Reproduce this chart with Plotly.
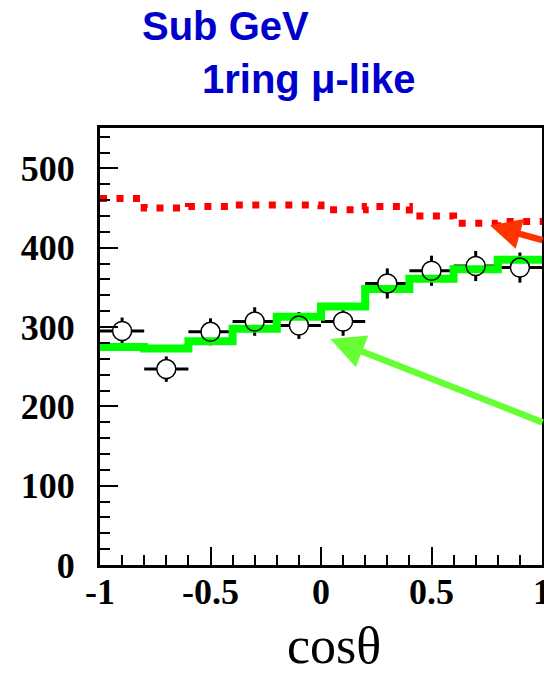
import plotly.graph_objects as go

# ---------------- data ----------------
bin_edges = [-1.0, -0.8, -0.6, -0.4, -0.2, 0.0, 0.2, 0.4, 0.6, 0.8, 1.0]
bin_centers = [-0.9, -0.7, -0.5, -0.3, -0.1, 0.1, 0.3, 0.5, 0.7, 0.9]
data_counts = [295, 247, 294, 307, 302, 307, 355, 371, 377, 375]
data_errors = [17, 16, 17, 18, 17, 18, 19, 19, 19, 19]
mc_oscillated = [275, 273, 282, 298, 313, 326, 348, 361, 373, 385]
mc_no_oscillation = [462, 450, 452, 454, 454, 448, 452, 440, 431, 433]

x_tick_vals = [-1, -0.5, 0, 0.5, 1]
x_tick_text = ["-1", "-0.5", "0", "0.5", "1"]
y_tick_vals = [0, 100, 200, 300, 400, 500]
y_tick_text = ["0", "100", "200", "300", "400", "500"]

title_line1 = "Sub GeV"
title_line2 = "1ring μ-like"
x_label = "cosθ"

# ---------------- layout geometry ----------------
W, H = 544, 674
ML, MR, MT, MB = 100, 2, 128, 109
PW, PH = W - ML - MR, H - MT - MB


def px_x(p):
    return (p - ML) / PW


def px_y(p):
    return (H - MB - p) / PH


half_widths = [(bin_edges[i + 1] - bin_edges[i]) / 2 for i in range(len(bin_centers))]

fig = go.Figure()

# data error bars (hidden markers)
fig.add_trace(go.Scatter(
    x=bin_centers, y=data_counts, mode="markers",
    marker=dict(size=1, opacity=0),
    error_y=dict(type="data", array=data_errors, color="black", thickness=3, width=0),
    error_x=dict(type="data", array=half_widths, color="black", thickness=3, width=0),
    showlegend=False, hoverinfo="skip",
))
# white disc of data markers
fig.add_trace(go.Scatter(
    x=bin_centers, y=data_counts, mode="markers",
    marker=dict(symbol="circle", size=19, color="white", line=dict(width=0)),
    showlegend=False, hoverinfo="skip",
))
# MC with oscillation (green step)
fig.add_trace(go.Scatter(
    x=bin_edges, y=mc_oscillated + [mc_oscillated[-1]], mode="lines",
    line=dict(color="#00FF00", width=8, shape="hv"),
    showlegend=False,
))
# data marker outline
fig.add_trace(go.Scatter(
    x=bin_centers, y=data_counts, mode="markers",
    marker=dict(symbol="circle-open", size=19, color="black", line=dict(width=1.5, color="black")),
    showlegend=False,
))
# MC without oscillation (red dotted)
fig.add_trace(go.Scatter(
    x=bin_edges, y=mc_no_oscillation + [mc_no_oscillation[-1]], mode="lines",
    line=dict(color="#FF0000", width=7, shape="hv", dash="7px,9.5px"),
    showlegend=False,
))

tick_font = dict(family="Liberation Serif", size=36, color="black", weight="bold")

fig.update_xaxes(
    range=[-1, 1], showgrid=False, zeroline=False, automargin=False,
    showline=True, linecolor="black", linewidth=3, mirror=True,
    ticks="inside", ticklen=18, tickwidth=1.5, tickcolor="black",
    tickvals=x_tick_vals, ticktext=x_tick_text, tickfont=tick_font,
    ticklabelstandoff=-7, ticklabeloverflow="allow",
    minor=dict(ticks="inside", dtick=0.1, ticklen=10, tickwidth=1.5, tickcolor="black"),
)
fig.update_yaxes(
    range=[0, 551], showgrid=False, zeroline=False, automargin=False,
    showline=True, linecolor="black", linewidth=3, mirror=True,
    ticks="inside", ticklen=18, tickwidth=1.5, tickcolor="black",
    tickvals=y_tick_vals, ticktext=y_tick_text, tickfont=tick_font,
    ticklabelstandoff=15, ticklabeloverflow="allow",
    minor=dict(ticks="inside", dtick=20, ticklen=10, tickwidth=1.5, tickcolor="black"),
)

title_font = dict(family="Liberation Sans", size=40, color="#0000CC", weight="bold")

annotations = [
    dict(text=title_line1, xref="paper", yref="paper", x=px_x(140), y=px_y(26),
         xanchor="left", yanchor="middle", showarrow=False, font=title_font),
    dict(text=title_line2, xref="paper", yref="paper", x=px_x(200), y=px_y(79),
         xanchor="left", yanchor="middle", showarrow=False, font=title_font),
    dict(text=x_label, xref="paper", yref="paper", x=px_x(334), y=px_y(645),
         xanchor="center", yanchor="middle", showarrow=False,
         font=dict(family="Liberation Serif", size=52, color="black")),
    # red arrow pointing at no-oscillation MC
    dict(text="", x=0.765, y=428, xref="x", yref="y", showarrow=True,
         ax=89, ay=15, axref="pixel", ayref="pixel",
         arrowhead=2, arrowsize=0.95, arrowwidth=6.5, arrowcolor="#FF3300"),
    # green arrow pointing at oscillated MC
    dict(text="", x=0.042, y=285, xref="x", yref="y", showarrow=True,
         ax=250, ay=84, axref="pixel", ayref="pixel",
         arrowhead=2, arrowsize=1.05, arrowwidth=6.5, arrowcolor="#66FF33"),
]

fig.update_layout(
    width=W, height=H,
    margin=dict(l=ML, r=MR, t=MT, b=MB, pad=0),
    paper_bgcolor="white", plot_bgcolor="white",
    annotations=annotations,
    showlegend=False,
)

fig.write_html("out.html", config={"displayModeBar": False},
               post_script="document.body.style.margin='0';")
